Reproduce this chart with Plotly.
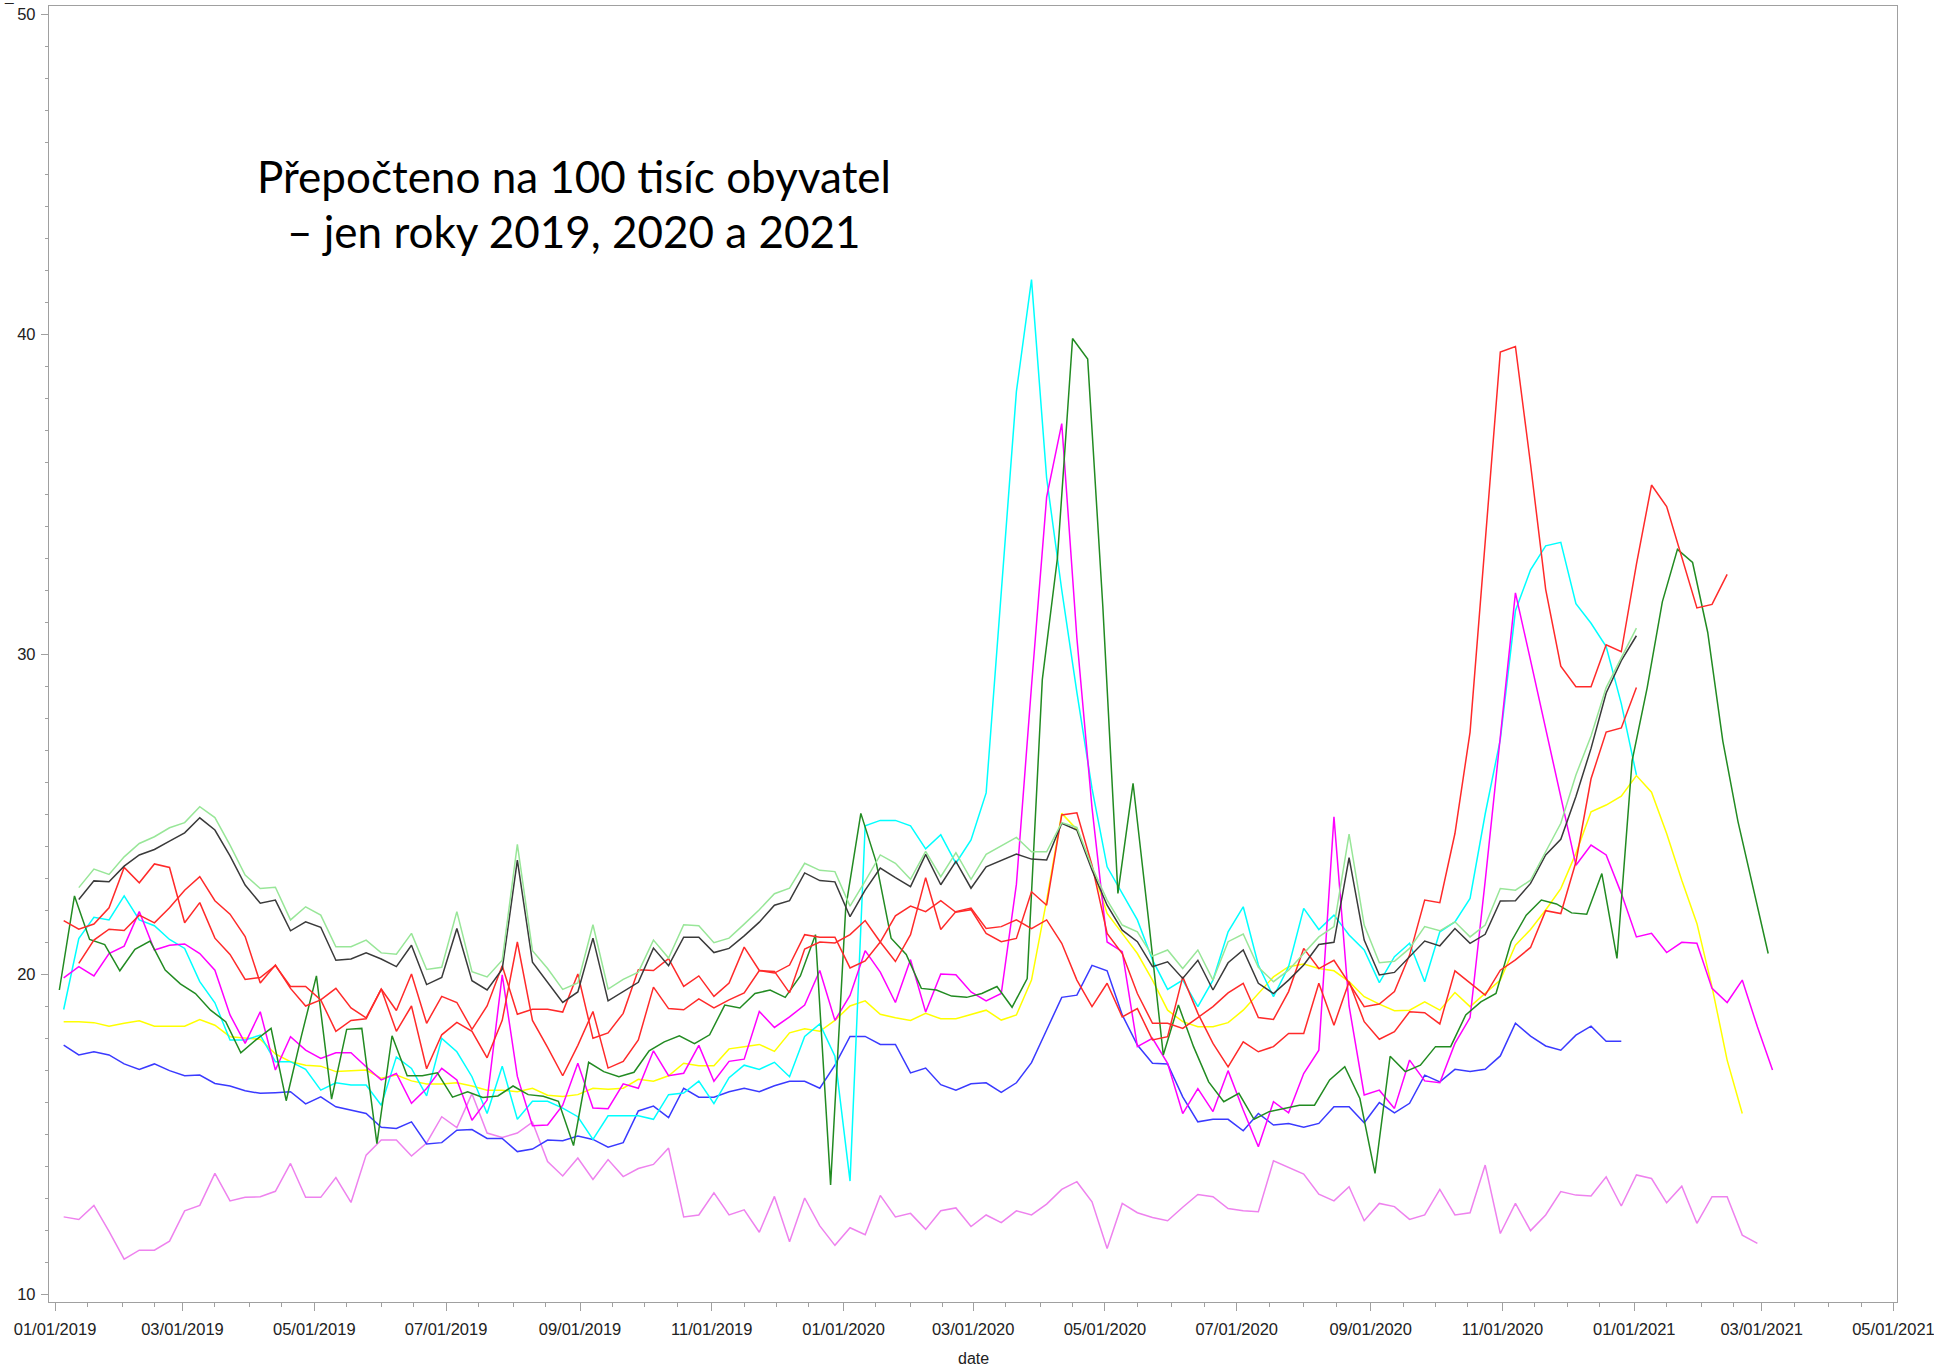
import pandas as pd
import plotly.graph_objects as go

# ---------------- data (weekly values, per 100k inhabitants) ----------------
FIRST_WEEK = "2019-01-05"          # date of week index 0

violet_start = 0
violet = [12.41, 12.33, 12.77, 11.96, 11.09, 11.37, 11.37, 11.65, 12.6, 12.77, 13.77, 12.91, 13.02, 13.04,
          13.21, 14.08, 13.02, 13.02, 13.64, 12.86, 14.34, 14.81, 14.81, 14.31, 14.72, 15.54, 15.2, 16.26,
          15.03, 14.89, 15.03, 15.37, 14.14, 13.69, 14.25, 13.58, 14.2, 13.67, 13.92, 14.05, 14.56, 12.41,
          12.47, 13.16, 12.47, 12.63, 11.93, 13.05, 11.63, 13.0, 12.13, 11.52, 12.07, 11.85, 13.08, 12.41,
          12.52, 12.02, 12.6, 12.69, 12.11, 12.47, 12.23, 12.6, 12.47, 12.81, 13.27, 13.51, 12.88, 11.42,
          12.83, 12.54, 12.39, 12.29, 12.71, 13.11, 13.04, 12.67, 12.6, 12.57, 14.16, 13.96, 13.75, 13.12,
          12.91, 13.35, 12.29, 12.83, 12.73, 12.33, 12.47, 13.27, 12.47, 12.54, 14.03, 11.89, 12.83, 11.98,
          12.47, 13.2, 13.09, 13.06, 13.66, 12.75, 13.72, 13.61, 12.85, 13.37, 12.21, 13.04, 13.04, 11.84,
          11.58]

blue_start = 0
blue = [17.78, 17.47, 17.57, 17.47, 17.19, 17.02, 17.19, 16.98, 16.82, 16.84, 16.58, 16.5, 16.35, 16.27,
        16.29, 16.32, 15.94, 16.16, 15.85, 15.75, 15.64, 15.21, 15.17, 15.38, 14.69, 14.73, 15.12, 15.14,
        14.86, 14.86, 14.45, 14.53, 14.81, 14.79, 14.94, 14.83, 14.59, 14.73, 15.72, 15.87, 15.51, 16.43,
        16.15, 16.15, 16.32, 16.43, 16.32, 16.51, 16.65, 16.65, 16.43, 17.15, 18.05, 18.05, 17.8, 17.8,
        16.91, 17.06, 16.54, 16.37, 16.57, 16.6, 16.3, 16.6, 17.23, 18.25, 19.27, 19.34, 20.27, 20.1,
        18.72, 17.78, 17.21, 17.19, 16.16, 15.38, 15.46, 15.46, 15.1, 15.64, 15.28, 15.33, 15.21, 15.33,
        15.85, 15.85, 15.35, 15.98, 15.66, 15.96, 16.84, 16.63, 17.02, 16.95, 17.02, 17.44, 18.46, 18.06,
        17.75, 17.62, 18.09, 18.37, 17.9, 17.9]

yellow_start = 0
yellow = [18.51, 18.51, 18.48, 18.37, 18.46, 18.54, 18.37, 18.37, 18.37, 18.58, 18.4, 18.04, 17.99, 17.96,
          17.5, 17.26, 17.15, 17.12, 16.95, 16.98, 17.0, 16.74, 16.84, 16.66, 16.56, 16.56, 16.6, 16.5,
          16.37, 16.37, 16.32, 16.43, 16.21, 16.17, 16.23, 16.43, 16.4, 16.43, 16.71, 16.65, 16.82, 17.21,
          17.13, 17.13, 17.66, 17.73, 17.8, 17.58, 18.16, 18.29, 18.21, 18.55, 19.0, 19.16, 18.74, 18.63,
          18.55, 18.77, 18.6, 18.6, 18.74, 18.87, 18.56, 18.72, 19.81, 22.3, 25.02, 24.52, 23.35, 21.89,
          21.27, 20.64, 19.81, 18.87, 18.51, 18.35, 18.35, 18.48, 18.87, 19.39, 19.91, 20.23, 20.31, 20.17,
          20.1, 19.76, 19.29, 19.06, 18.85, 18.87, 19.13, 18.87, 19.42, 18.98, 19.39, 19.81, 20.9, 21.39,
          22.0, 22.67, 23.77, 25.07, 25.28, 25.56, 26.2, 25.68, 24.39, 22.93, 21.58, 19.6, 17.31, 15.64]

cyan_start = 0
cyan = [18.89, 21.11, 21.77, 21.69, 22.44, 21.69, 21.51, 21.08, 20.8, 19.76, 19.1, 17.94, 17.94, 18.09,
        17.26, 17.26, 17.02, 16.37, 16.6, 16.53, 16.53, 15.9, 17.41, 17.05, 16.19, 17.99, 17.57, 16.79,
        15.64, 17.12, 15.46, 16.02, 16.02, 15.81, 15.54, 14.83, 15.57, 15.57, 15.57, 15.46, 16.23, 16.28,
        16.65, 15.95, 16.76, 17.15, 17.02, 17.24, 16.79, 18.05, 18.44, 17.43, 13.53, 24.63, 24.8, 24.8,
        24.63, 23.91, 24.35, 23.46, 24.19, 25.66, 32.0, 38.2, 41.7, 35.5, 32.0, 28.8, 25.8, 23.35, 22.52,
        21.69, 20.44, 19.52, 19.81, 18.98, 19.81, 21.32, 22.1, 20.28, 19.29, 20.23, 22.05, 21.39, 21.84,
        21.22, 20.75, 19.73, 20.54, 20.96, 19.76, 21.32, 21.63, 22.36, 25.0, 27.33, 31.35, 32.63, 33.38,
        33.49, 31.57, 30.96, 30.23, 28.45, 26.22]

magenta_start = 0
magenta = [19.88, 20.23, 19.94, 20.64, 20.87, 21.95, 20.75, 20.9, 20.94, 20.64, 20.12, 18.72, 17.83, 18.82,
           17.0, 18.04, 17.62, 17.36, 17.54, 17.54, 17.1, 16.69, 16.89, 15.96, 16.42, 17.05, 16.69, 15.43,
           16.06, 19.97, 16.8, 15.26, 15.28, 15.9, 17.21, 15.81, 15.79, 16.57, 16.43, 17.6, 16.82, 16.9,
           17.77, 16.65, 17.27, 17.34, 18.83, 18.33, 18.66, 19.03, 20.11, 18.55, 19.33, 20.73, 20.06, 19.11,
           20.45, 18.81, 20.0, 19.98, 19.44, 19.16, 19.39, 22.8, 29.0, 34.9, 37.2, 30.5, 25.2, 21.0, 20.7,
           17.73, 17.99, 17.21, 15.64, 16.42, 15.7, 16.98, 15.75, 14.6, 16.01, 15.66, 16.89, 17.62, 24.91,
           19.0, 16.22, 16.37, 15.8, 17.31, 16.66, 16.6, 17.83, 18.64, 22.9, 27.4, 31.91, 29.8, 27.7, 25.6,
           23.4, 24.03, 23.72, 22.52, 21.16, 21.27, 20.67, 20.99, 20.96, 19.55, 19.11, 19.81, 18.35, 17.0]

darkgreen_start = 0
darkgreen_day_shift = -2
darkgreen = [19.5, 22.44, 21.08, 20.92, 20.1, 20.77, 21.03, 20.12, 19.69, 19.39, 18.87, 18.51, 17.54, 17.94,
             18.3, 16.04, 18.05, 19.94, 16.09, 18.27, 18.3, 14.7, 18.07, 16.82, 16.82, 16.91, 16.15, 16.32,
             16.14, 16.19, 16.5, 16.23, 16.18, 16.02, 14.64, 17.24, 16.95, 16.79, 16.93, 17.6, 17.88, 18.07,
             17.82, 18.1, 19.03, 18.94, 19.39, 19.5, 19.27, 19.94, 21.23, 13.41, 22.07, 25.02, 23.52, 21.12,
             20.61, 19.55, 19.5, 19.31, 19.27, 19.39, 19.61, 18.96, 19.86, 29.2, 33.0, 39.86, 39.22, 31.5,
             22.52, 25.96, 21.8, 17.47, 19.03, 17.73, 16.63, 16.01, 16.27, 15.46, 15.7, 15.8, 15.9, 15.9,
             16.69, 17.1, 16.11, 13.77, 17.43, 16.95, 17.15, 17.73, 17.73, 18.72, 19.13, 19.39, 21.01, 21.84,
             22.31, 22.19, 21.91, 21.87, 23.14, 20.49, 26.66, 28.95, 31.63, 33.27, 32.86, 30.68, 27.28,
             24.77, 22.73, 20.64]

red_a_start = 0
red_a = [21.67, 21.4, 21.56, 22.07, 23.33, 22.85, 23.44, 23.33, 21.6, 22.23, 21.12, 20.61, 19.83, 19.89,
         20.26, 19.61, 19.61, 19.19, 18.21, 18.55, 18.6, 19.53, 18.86, 20.0, 18.46, 19.3, 19.11, 18.27, 19.0,
         20.26, 18.74, 18.9, 18.9, 18.81, 20.0, 17.99, 18.16, 18.77, 20.13, 20.11, 20.48, 19.61, 19.94,
         19.3, 19.72, 20.84, 20.11, 20.03, 20.28, 21.23, 21.15, 21.15, 20.19, 20.41, 21.0, 20.39, 21.23,
         23.01, 21.39, 21.95, 22.06, 21.42, 21.48, 21.69, 21.42, 21.69, 20.96, 19.81, 18.98, 19.71, 18.66,
         18.92, 17.94, 18.04, 19.91, 18.77, 17.83, 17.1, 17.88, 17.57, 17.73, 18.14, 18.14, 19.71, 18.4,
         19.76, 18.51, 17.96, 18.2, 18.82, 18.79, 18.44, 20.1, 19.73, 19.34, 20.12, 20.44, 20.83, 21.98,
         21.89, 23.5, 26.1, 27.56, 27.69, 28.95]

red_b_start = 1
red_b = [20.33, 21.06, 21.4, 21.36, 21.84, 21.6, 22.07, 22.62, 23.04, 22.29, 21.87, 21.17, 19.72, 20.28,
         19.55, 19.0, 19.19, 19.55, 18.94, 18.63, 19.53, 18.21, 19.0, 17.04, 18.1, 18.49, 18.21, 17.38,
         18.55, 21.0, 18.55, 17.71, 16.82, 17.77, 18.83, 17.06, 17.27, 17.94, 19.59, 18.92, 18.88, 19.22,
         18.94, 19.19, 19.41, 20.11, 20.08, 19.41, 20.78, 21.0, 20.97, 21.23, 21.67, 21.0, 21.82, 22.12,
         21.95, 22.29, 21.93, 22.01, 21.27, 21.01, 21.11, 22.57, 22.15, 24.97, 25.04, 23.4, 21.27, 20.64,
         19.39, 18.46, 18.46, 18.3, 18.64, 18.98, 19.41, 19.71, 18.64, 18.58, 19.45, 20.8, 20.17, 20.43,
         19.71, 18.98, 19.06, 19.45, 20.59, 22.31, 22.23, 24.39, 27.56, 33.5, 39.44, 39.61, 35.93, 32.02,
         29.62, 28.98, 28.98, 30.29, 30.07, 32.8, 35.28, 34.61, 33.02, 31.44, 31.55, 32.49]

black_start = 1
black = [22.33, 22.91, 22.88, 23.37, 23.72, 23.89, 24.15, 24.41, 24.88, 24.5, 23.69, 22.78, 22.21, 22.31,
         21.35, 21.63, 21.46, 20.43, 20.47, 20.66, 20.47, 20.23, 20.9, 19.67, 19.89, 21.42, 19.79, 19.5,
         20.15, 23.56, 20.37, 19.74, 19.11, 19.44, 21.12, 19.16, 19.44, 19.74, 20.81, 20.26, 21.15, 21.15,
         20.67, 20.8, 21.19, 21.62, 22.15, 22.29, 23.16, 22.92, 22.88, 21.79, 22.62, 23.31, 23.01, 22.73,
         23.74, 22.79, 23.52, 22.68, 23.35, 23.56, 23.75, 23.59, 23.56, 24.71, 24.5, 23.25, 22.15, 21.37,
         21.01, 20.23, 20.38, 19.86, 20.43, 19.5, 20.35, 20.75, 19.71, 19.39, 19.81, 20.28, 20.92, 20.99,
         23.64, 21.06, 19.97, 20.05, 20.54, 21.03, 20.88, 21.42, 20.96, 21.24, 22.28, 22.29, 22.83, 23.72,
         24.21, 25.55, 27.05, 28.78, 29.79, 30.57]

lightgreen_start = 1
lightgreen = [22.7, 23.28, 23.11, 23.66, 24.08, 24.29, 24.57, 24.73, 25.23, 24.89, 24.03, 23.09, 22.67,
              22.71, 21.69, 22.1, 21.84, 20.85, 20.85, 21.06, 20.66, 20.62, 21.27, 20.14, 20.21, 21.95, 20.07,
              19.91, 20.43, 24.05, 20.73, 20.17, 19.52, 19.72, 21.54, 19.53, 19.83, 20.06, 21.06, 20.5, 21.54,
              21.51, 20.98, 21.12, 21.56, 22.01, 22.51, 22.68, 23.46, 23.24, 23.2, 22.12, 22.9, 23.72, 23.46,
              22.96, 23.83, 23.04, 23.79, 22.96, 23.74, 24.0, 24.27, 23.82, 23.82, 24.73, 24.58, 23.35, 22.31,
              21.53, 21.32, 20.56, 20.75, 20.17, 20.75, 19.81, 21.01, 21.25, 20.21, 19.76, 20.12, 20.64,
              21.16, 21.48, 24.37, 21.53, 20.35, 20.4, 20.8, 21.48, 21.35, 21.63, 21.16, 21.53, 22.67, 22.62,
              22.93, 23.82, 24.71, 26.22, 27.44, 28.95, 29.9, 30.81]

# axis ticks
x_major_ticks = ["2019-01-01", "2019-03-01", "2019-05-01", "2019-07-01", "2019-09-01", "2019-11-01",
                 "2020-01-01", "2020-03-01", "2020-05-01", "2020-07-01", "2020-09-01", "2020-11-01",
                 "2021-01-01", "2021-03-01", "2021-05-01"]
y_major_ticks = [10, 20, 30, 40, 50]
title_lines = ["Přepočteno na 100 tisíc obyvatel", "– jen roky 2019, 2020 a 2021"]
x_axis_label = "date"

# ---------------- figure ----------------
def weekly_dates(start_idx, n, day_shift=0):
    base = pd.Timestamp(FIRST_WEEK) + pd.Timedelta(days=day_shift)
    return [base + pd.Timedelta(days=7 * (start_idx + i)) for i in range(n)]

series = [
    ("violet", "#EE82EE", violet_start, violet, 0),
    ("blue", "#3A3AFF", blue_start, blue, 0),
    ("yellow", "#FFFF00", yellow_start, yellow, 0),
    ("cyan", "#00FFFF", cyan_start, cyan, 0),
    ("magenta", "#FF00FF", magenta_start, magenta, 0),
    ("darkgreen", "#228B22", darkgreen_start, darkgreen, darkgreen_day_shift),
    ("red_a", "#FF2A2A", red_a_start, red_a, 0),
    ("red_b", "#FF2A2A", red_b_start, red_b, 0),
    ("black", "#3A3A3A", black_start, black, 0),
    ("lightgreen", "#98E698", lightgreen_start, lightgreen, 0),
]

fig = go.Figure()
for name, color, start, vals, shift in series:
    fig.add_trace(go.Scatter(
        x=weekly_dates(start, len(vals), shift), y=vals, mode="lines", name=name,
        line=dict(color=color, width=1.5), showlegend=False, hoverinfo="skip"))

# minor x ticks: 1st and 16th of each month
minor_x = []
for m in pd.date_range("2018-12-01", "2021-05-01", freq="MS"):
    for d in (m, m + pd.Timedelta(days=15)):
        if d.strftime("%Y-%m-%d") not in x_major_ticks:
            minor_x.append(d)

axis_gray = "#A0A0A0"
tick_font = dict(family="Liberation Sans, Arial, sans-serif", size=16.5, color="#222222")

fig.update_layout(
    width=1934, height=1368,
    margin=dict(l=49, r=37, t=6, b=66, autoexpand=False),
    paper_bgcolor="white", plot_bgcolor="white",
    xaxis=dict(
        range=["2018-12-29 05:00", "2021-05-02 15:00"],
        tickmode="array", tickvals=x_major_ticks,
        ticktext=[pd.Timestamp(t).strftime("%m/%d/%Y") for t in x_major_ticks],
        ticks="outside", ticklen=8, tickwidth=1, tickcolor=axis_gray,
        showline=True, linecolor=axis_gray, linewidth=1.3, mirror=True,
        showgrid=False, zeroline=False, tickfont=tick_font, automargin=False,
        ticklabelstandoff=4, ticklabeloverflow="allow",
        minor=dict(tickmode="array", tickvals=minor_x, ticks="outside", ticklen=4,
                   tickcolor=axis_gray, tickwidth=1, showgrid=False),
    ),
    yaxis=dict(
        range=[9.75, 50.25], tickmode="array", tickvals=y_major_ticks,
        ticks="outside", ticklen=7, tickwidth=1, tickcolor=axis_gray,
        showline=True, linecolor=axis_gray, linewidth=1.3, mirror=True,
        showgrid=False, zeroline=False, tickfont=tick_font, automargin=False,
        ticklabelstandoff=2, ticklabeloverflow="allow",
        minor=dict(dtick=1, ticks="outside", ticklen=3, tickcolor=axis_gray,
                   tickwidth=1, showgrid=False),
    ),
)

plot_h = 1368 - 6 - 66
def py(pix):
    return (1302 - pix) / plot_h

title_font = dict(family="Lato, Carlito, sans-serif", size=44, color="black")
fig.add_annotation(text=title_lines[0], xref="paper", yref="paper", x=(573.5 - 49) / 1848, y=py(176),
                   xanchor="center", yanchor="middle", showarrow=False, font=title_font)
fig.add_annotation(text=title_lines[1], xref="paper", yref="paper", x=(573.5 - 49) / 1848, y=py(231),
                   xanchor="center", yanchor="middle", showarrow=False, font=title_font)
fig.add_annotation(text=x_axis_label, xref="paper", yref="paper", x=0.5, y=py(1358),
                   xanchor="center", yanchor="middle", showarrow=False,
                   font=dict(family="Liberation Sans, Arial, sans-serif", size=16, color="#222222"))
fig.add_annotation(text="_", xref="paper", yref="paper", x=(2 - 49) / 1848, y=py(6),
                   xanchor="left", yanchor="bottom", showarrow=False,
                   font=dict(family="Liberation Sans, Arial, sans-serif", size=15.5, color="#222222"))

fig.write_html("out.html", config={"displayModeBar": False},
               post_script="document.body.style.margin='0px';")
